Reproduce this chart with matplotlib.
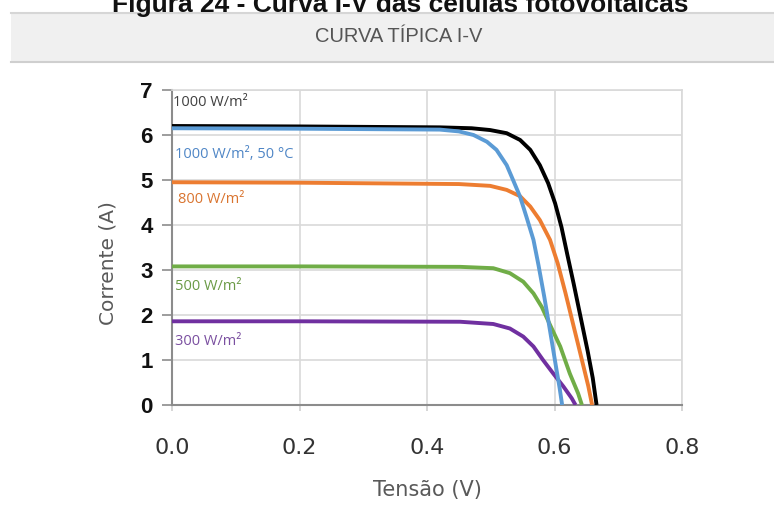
import matplotlib
matplotlib.use("Agg")
import matplotlib.pyplot as plt
from matplotlib.patches import Rectangle
from matplotlib.lines import Line2D

# ---- data ----
v_1000 = [0.0, 0.2, 0.42, 0.47, 0.499, 0.525, 0.546, 0.562, 0.577, 0.590, 0.601, 0.611,
          0.620, 0.630, 0.641, 0.652, 0.660, 0.666]
i_1000 = [6.20, 6.19, 6.17, 6.15, 6.11, 6.04, 5.89, 5.67, 5.33, 4.93, 4.48, 3.95,
          3.35, 2.70, 1.95, 1.20, 0.60, 0.0]

v_1000_50 = [0.0, 0.2, 0.42, 0.45, 0.473, 0.494, 0.509, 0.525, 0.535, 0.546, 0.556, 0.567,
             0.575, 0.584, 0.593, 0.602, 0.608, 0.612]
i_1000_50 = [6.15, 6.14, 6.12, 6.08, 6.00, 5.85, 5.67, 5.33, 5.00, 4.63, 4.18, 3.67,
             3.10, 2.40, 1.65, 0.88, 0.38, 0.0]

v_800 = [0.0, 0.2, 0.45, 0.499, 0.525, 0.546, 0.562, 0.577, 0.593, 0.605, 0.617, 0.630, 0.643, 0.653, 0.659]
i_800 = [4.95, 4.94, 4.91, 4.87, 4.78, 4.64, 4.41, 4.11, 3.67, 3.15, 2.50, 1.75, 1.00, 0.42, 0.0]

v_500 = [0.0, 0.2, 0.452, 0.504, 0.530, 0.551, 0.567, 0.580, 0.593, 0.609, 0.624, 0.637, 0.643]
i_500 = [3.08, 3.08, 3.07, 3.04, 2.93, 2.74, 2.48, 2.18, 1.78, 1.30, 0.70, 0.26, 0.0]

v_300 = [0.0, 0.2, 0.452, 0.504, 0.530, 0.551, 0.567, 0.582, 0.598, 0.614, 0.627, 0.633]
i_300 = [1.86, 1.86, 1.85, 1.80, 1.70, 1.52, 1.30, 1.00, 0.70, 0.41, 0.15, 0.0]

series_labels = ["1000 W/m²", "1000 W/m², 50 °C", "800 W/m²", "500 W/m²", "300 W/m²"]
series_colors = ["#000000", "#5b9bd5", "#ed7d31", "#70ad47", "#7030a0"]
label_colors = ["#404040", "#4f86c6", "#d9742f", "#6a9a45", "#7a4fa0"]
label_pos = [(0.002, 6.73), (0.004, 5.56), (0.010, 4.56), (0.004, 2.64), (0.004, 1.42)]

x_ticks = [0.0, 0.2, 0.4, 0.6, 0.8]
y_ticks = [0, 1, 2, 3, 4, 5, 6, 7]

W, H = 774, 508
fig = plt.figure(figsize=(W / 100, H / 100), dpi=100)

# ---- header ----
fig.text(400 / W, 1 - 12 / H, "Figura 24 - Curva I-V das células fotovoltaicas",
         ha="center", va="baseline", fontsize=19, fontweight="bold",
         family="Liberation Sans", color="#111111")
band = Rectangle((11 / W, 1 - 62 / H), 1 - 11 / W, 49 / H, transform=fig.transFigure,
                 facecolor="#f0f0f0", edgecolor="none", zorder=1)
fig.add_artist(band)
fig.add_artist(Line2D([11 / W, 1], [1 - 13 / H] * 2, color="#d6d6d6", lw=1.5, transform=fig.transFigure, zorder=2))
fig.add_artist(Line2D([11 / W, 1], [1 - 62 / H] * 2, color="#cfcfcf", lw=1.5, transform=fig.transFigure, zorder=2))
fig.text(399 / W, 1 - 37 / H, "CURVA TÍPICA I-V", ha="center", va="center",
         fontsize=14.5, family="Liberation Sans", color="#555555", zorder=3)

# ---- axes ----
ax = fig.add_axes([172 / W, 1 - 405 / H, 510 / W, 315 / H])
series = [(v_1000, i_1000), (v_1000_50, i_1000_50), (v_800, i_800), (v_500, i_500), (v_300, i_300)]
order = [0, 2, 3, 4, 1]
for k in order:
    v, i = series[k]
    ax.plot(v, i, color=series_colors[k], lw=2.8, solid_capstyle="butt",
            solid_joinstyle="round", zorder=3 + (k == 1))

for k, (x, y) in enumerate(label_pos):
    ax.text(x, y, series_labels[k], color=label_colors[k], fontsize=10.5,
            family="Open Sans", ha="left", va="center")

ax.set_xlim(0, 0.8)
ax.set_ylim(0, 7)
ax.set_xticks(x_ticks)
ax.set_yticks(y_ticks)
ax.set_xticklabels([f"{t:.1f}" for t in x_ticks], fontsize=16, color="#333333", family="DejaVu Sans")
ax.set_yticklabels([str(t) for t in y_ticks], fontsize=16, fontweight="bold", color="#111111",
                   family="Liberation Sans")
ax.grid(True, color="#d9d9d9", lw=1.2)
ax.set_axisbelow(True)
for s in ["top", "right"]:
    ax.spines[s].set_color("#d9d9d9")
    ax.spines[s].set_linewidth(1.2)
for s in ["left", "bottom"]:
    ax.spines[s].set_color("#8c8c8c")
    ax.spines[s].set_linewidth(1.5)
ax.tick_params(axis="y", length=7, width=1.2, color="#8c8c8c", pad=7)
ax.tick_params(axis="x", length=4, width=1.2, color="#d0d0d0", pad=20)

ax.set_ylabel("Corrente (A)", fontsize=14.5, color="#595959", family="DejaVu Sans")
ax.yaxis.set_label_coords(-0.107, 0.45)
ax.set_xlabel("Tensão (V)", fontsize=15, color="#595959", family="DejaVu Sans")
ax.xaxis.set_label_coords(0.500, -0.238)

fig.savefig("out.png", dpi=100)
